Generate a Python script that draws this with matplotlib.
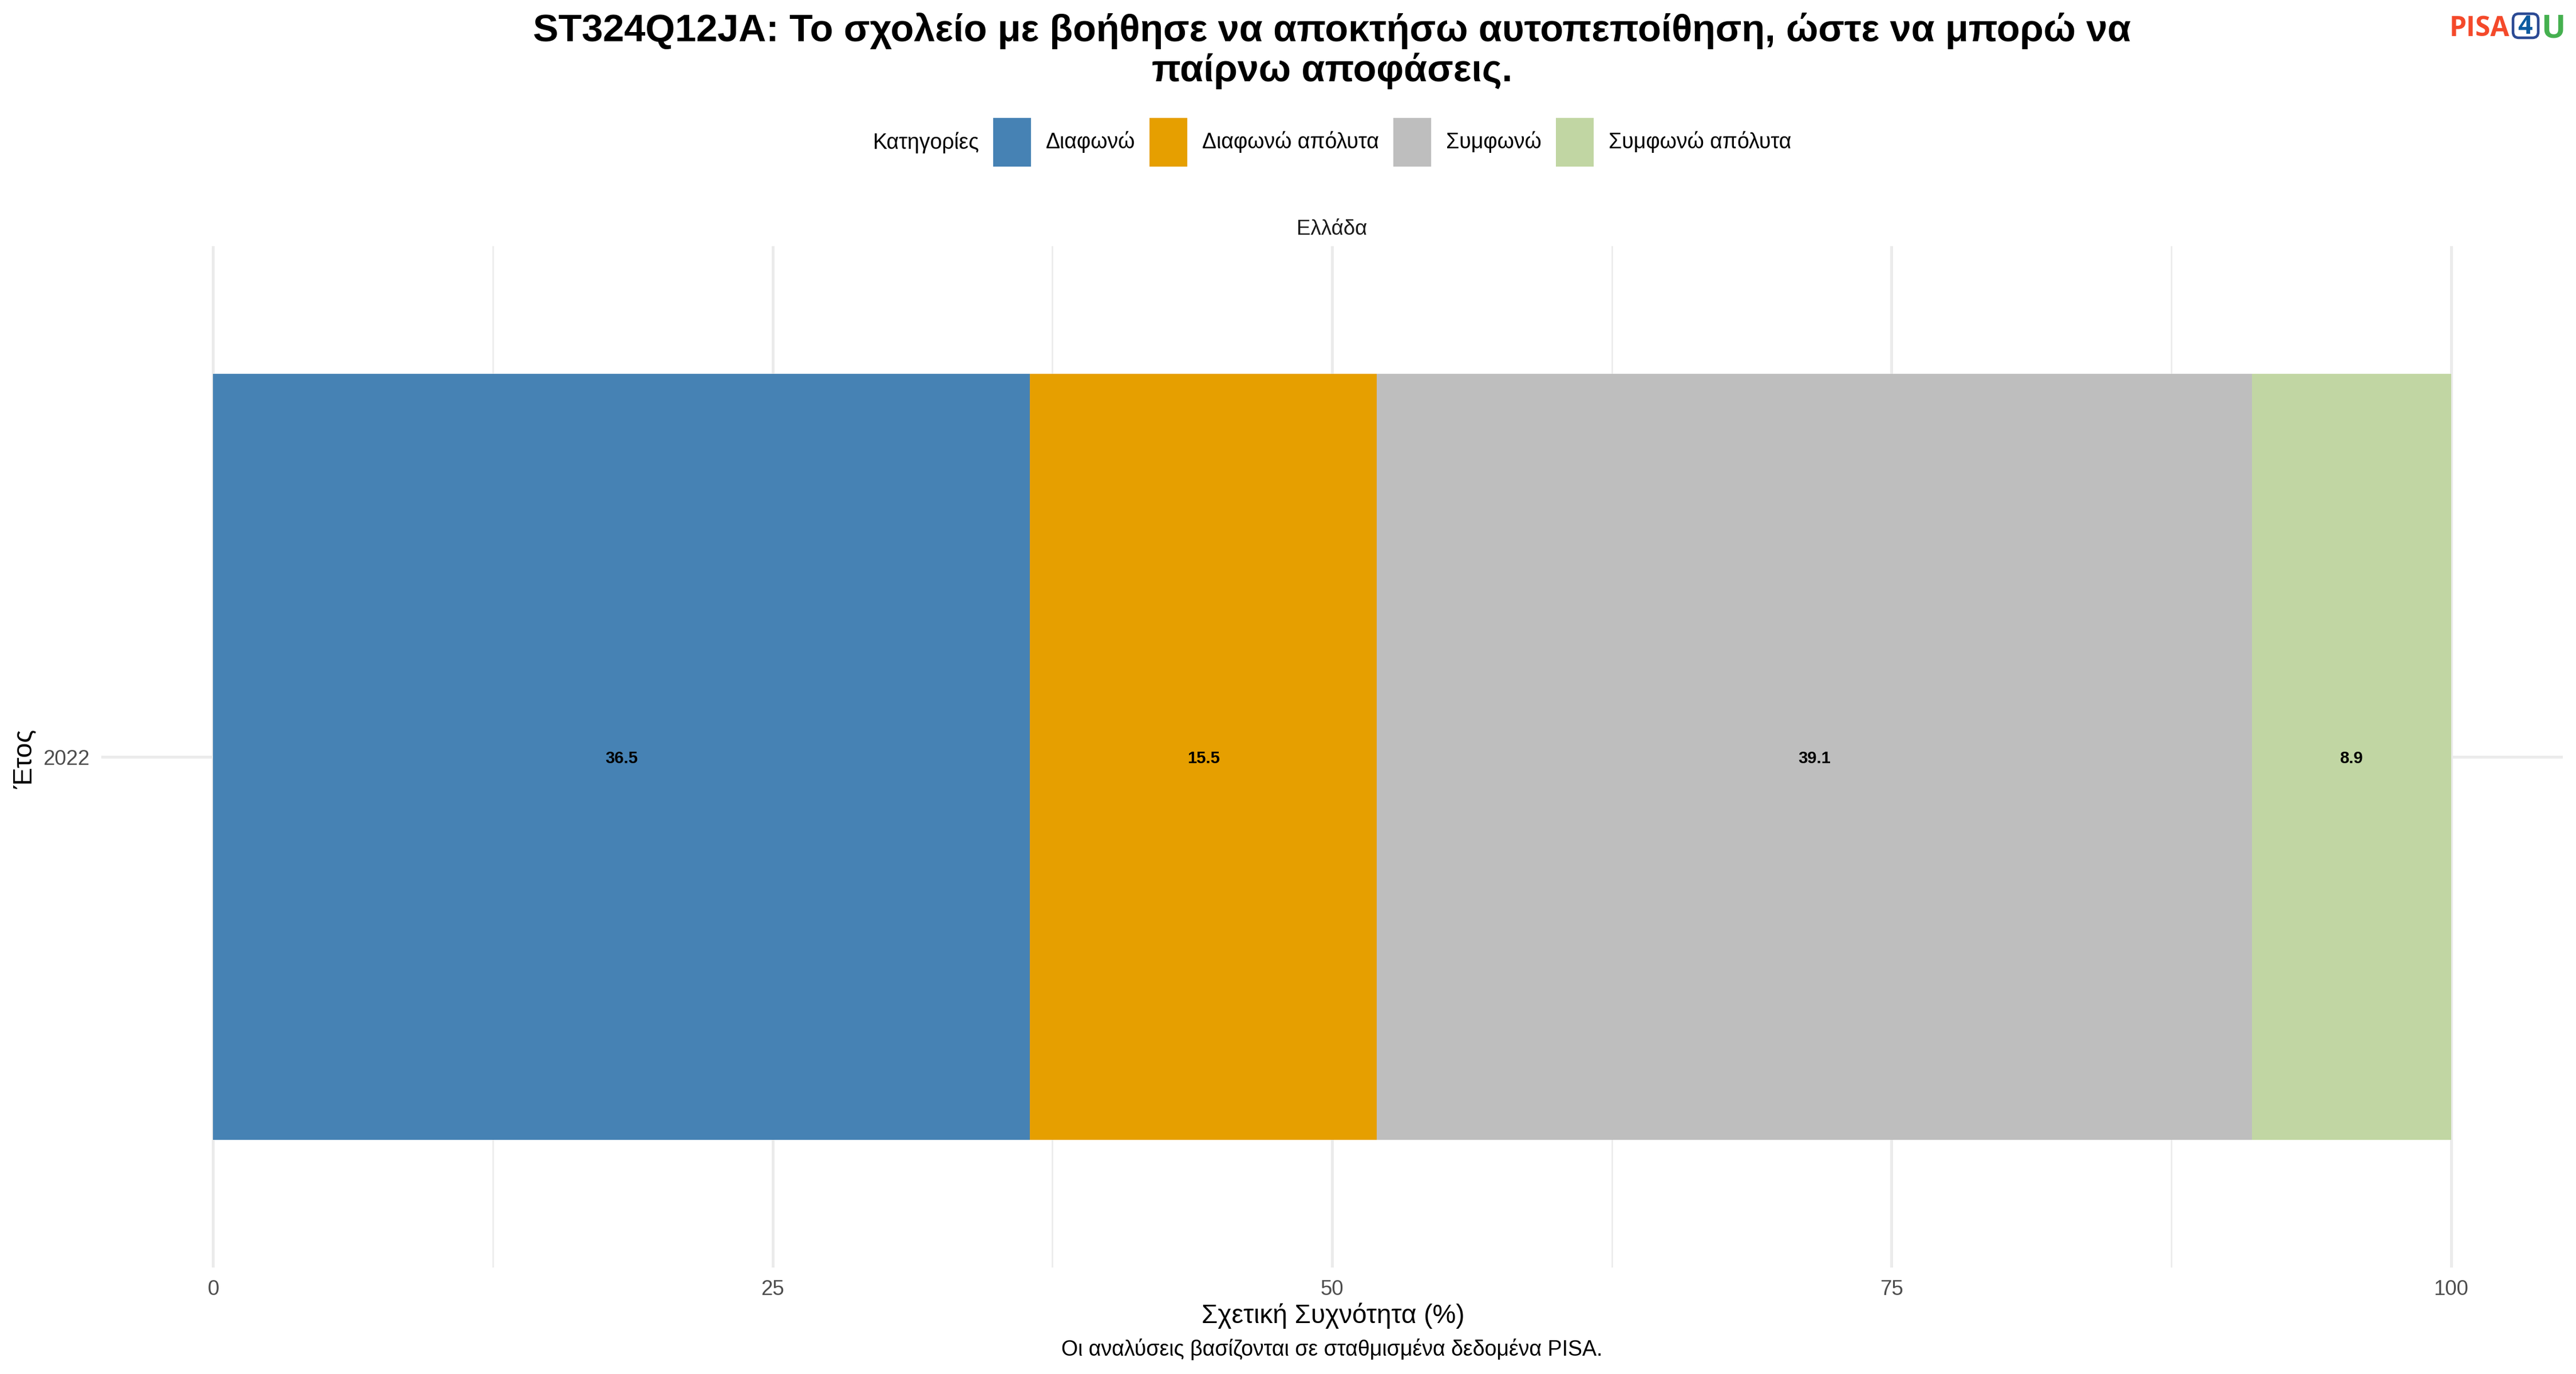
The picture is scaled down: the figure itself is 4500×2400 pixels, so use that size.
import matplotlib
matplotlib.use("Agg")
import matplotlib.pyplot as plt
from matplotlib.patches import Patch, FancyBboxPatch
from matplotlib.ticker import MultipleLocator
from matplotlib.transforms import IdentityTransform
import numpy as np

plt.rcParams['font.family'] = ['Liberation Sans', 'DejaVu Sans']

title_text = "ST324Q12JA: Το σχολείο με βοήθησε να αποκτήσω αυτοπεποίθηση, ώστε να μπορώ να\nπαίρνω αποφάσεις."
categories = ["Διαφωνώ", "Διαφωνώ απόλυτα", "Συμφωνώ", "Συμφωνώ απόλυτα"]
values = [36.5, 15.5, 39.1, 8.9]
colors = ["#4682B4", "#E69F00", "#BEBEBE", "#C1D6A3"]
years = ["2022"]
x_ticks = [0, 25, 50, 75, 100]

W, H = 4500, 2400
fig = plt.figure(figsize=(15, 8), dpi=300, facecolor="white")
fx = lambda p: p / W
fy = lambda p: 1 - p / H

ax = fig.add_axes([fx(177), fy(2214), 4300 / W, 1784 / H])
ax.set_xlim(-5, 105)
ax.set_ylim(-0.6, 0.6)
for s in ax.spines.values():
    s.set_visible(False)

left = 0.0
for cat, val, col in zip(categories, values, colors):
    ax.barh(0, val, left=left, height=0.9, color=col, linewidth=0, zorder=3)
    ax.text(left + val / 2, 0, f"{val:.1f}", ha="center", va="center_baseline",
            fontsize=7, fontweight="bold", color="black", zorder=4)
    left += val

ax.set_axisbelow(True)
ax.set_xticks(x_ticks)
ax.set_yticks([0])
ax.set_yticklabels(years)
ax.xaxis.set_minor_locator(MultipleLocator(12.5))
ax.grid(True, which="major", color="#EBEBEB", linewidth=1.2)
ax.grid(True, which="minor", axis="x", color="#EBEBEB", linewidth=0.6)
ax.tick_params(which="both", length=0)
ax.tick_params(axis="x", pad=5, labelsize=8.8, labelcolor="#4D4D4D")
ax.tick_params(axis="y", pad=5, labelsize=8.8, labelcolor="#4D4D4D")

fig.text(fx(2327), fy(89), title_text, ha="center", va="center",
         fontsize=16, fontweight="bold", color="black", linespacing=1.1)
fig.text(fx(2327), fy(400), "Ελλάδα", ha="center", va="center", fontsize=8.8, color="#1A1A1A")
fig.text(fx(2329), fy(2298), "Σχετική Συχνότητα (%)", ha="center", va="center", fontsize=11)
fig.text(fx(2327), fy(2357), "Οι αναλύσεις βασίζονται σε σταθμισμένα δεδομένα PISA.",
         ha="center", va="center", fontsize=9)
fig.text(fx(43), fy(1326), "Έτος", rotation=90, ha="center", va="center", fontsize=11.3)

# legend
fs = 9
em = fs * 300 / 72
fig.text(fx(1525), fy(249), "Κατηγορίες", ha="left", va="center", fontsize=fs)
handles = [Patch(facecolor=c, linewidth=0, label=n) for c, n in zip(colors, categories)]
fig.legend(handles=handles, ncol=4, loc="center left",
           bbox_to_anchor=(fx(1735), fy(248)), frameon=False, fontsize=fs,
           handlelength=66 / em, handleheight=(85 / em - 0.245) / 0.65,
           handletextpad=26 / em, columnspacing=25 / em,
           borderpad=0, borderaxespad=0, labelspacing=0)

# logo
logo_font = ["Open Sans", "DejaVu Sans"]
fig.text(fx(4279), fy(63), "PISA", ha="left", va="baseline", fontsize=11.5,
         fontweight="bold", color="#F4492A", family=logo_font)
fig.add_artist(FancyBboxPatch((4390, H - 66), 44, 42,
                              boxstyle="round,pad=0,rounding_size=10",
                              transform=IdentityTransform(), facecolor="white",
                              edgecolor="#2B4A94", linewidth=1.1))
fig.text(fx(4411), fy(59), "4", ha="center", va="baseline", fontsize=10.7,
         fontweight="bold", color="#0B5AA0", family=logo_font)
fig.text(fx(4460), fy(65), "U", ha="center", va="baseline", fontsize=13.4,
         fontweight="bold", color="#45B04F", family=logo_font)

fig.savefig("out.png", dpi=300, facecolor="white")
